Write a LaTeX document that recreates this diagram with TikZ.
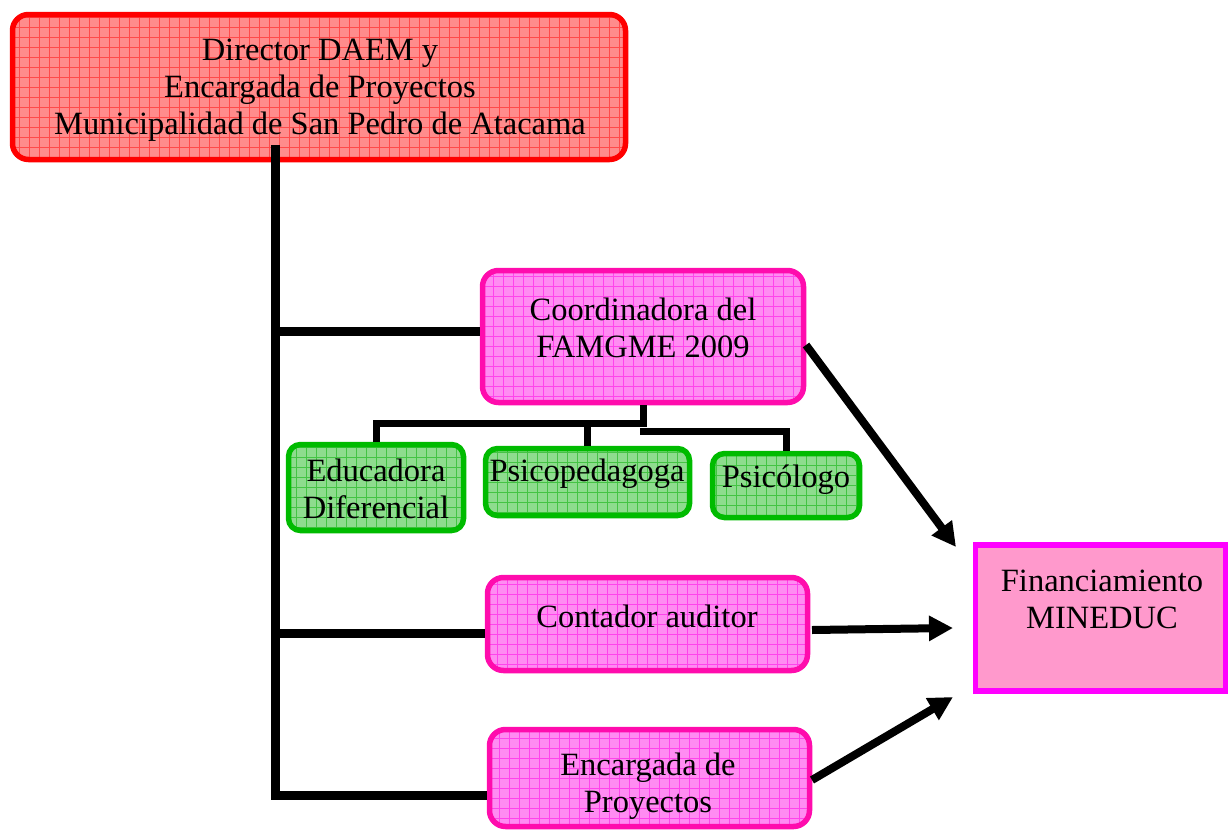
\documentclass[tikz,border=0pt]{standalone}
\usepackage{fontspec}
\setmainfont{Liberation Serif}
\usetikzlibrary{arrows.meta}
\definecolor{redB}{HTML}{FF0000}
\definecolor{redF}{HTML}{FF8C8C}
\definecolor{redG}{HTML}{FF4A4A}
\definecolor{magB}{HTML}{FF0CAD}
\definecolor{magF}{HTML}{FF8CF2}
\definecolor{magG}{HTML}{FF44EC}
\definecolor{grnB}{HTML}{00BB00}
\definecolor{grnF}{HTML}{8EDC8E}
\definecolor{grnG}{HTML}{44C444}
\definecolor{finB}{HTML}{FF00FF}
\definecolor{finF}{HTML}{FF99CC}
\begin{document}
\begin{tikzpicture}[x=1pt,y=-1pt,
  gbox/.style n args={3}{draw=#1, fill=#2, line width=5.5pt, rounded corners=16pt, inner sep=0pt,
    path picture={\draw[#3, line width=0.6pt] (path picture bounding box.south west) grid[step=10pt] (path picture bounding box.north east);}},
  txt/.style={align=center, font=\fontsize{32.5}{36.8}\selectfont, inner sep=0pt},
  conn/.style={line width=9pt, black},
  conn2/.style={line width=7pt, black},
  arr/.style={line width=8pt, black, -{Triangle[length=24pt,width=24pt]}}]
\useasboundingbox (0,0) rectangle (1229,830);
% boxes
\node[gbox={redB}{redF}{redG}, minimum width=613pt, minimum height=145pt] (top) at (319,87) {};
\node[gbox={magB}{magF}{magG}, minimum width=321pt, minimum height=132pt] (coord) at (643,336.5) {};
\node[gbox={grnB}{grnF}{grnG}, minimum width=175pt, minimum height=86pt, rounded corners=12pt] (edu) at (376,487.5) {};
\node[gbox={grnB}{grnF}{grnG}, minimum width=204pt, minimum height=67pt, rounded corners=12pt] (psp) at (587.5,482) {};
\node[gbox={grnB}{grnF}{grnG}, minimum width=147pt, minimum height=64pt, rounded corners=12pt] (psi) at (786,485.5) {};
\node[gbox={magB}{magF}{magG}, minimum width=320pt, minimum height=93pt] (cont) at (647.5,624) {};
\node[gbox={magB}{magF}{magG}, minimum width=320pt, minimum height=97pt] (enc) at (649.5,778) {};
\node[draw=finB, fill=finF, line width=5.5pt, minimum width=250pt, minimum height=146pt, inner sep=0pt] (fin) at (1100.5,618) {};
% texts
\node[txt] (topT) at (320,90) {Director DAEM y\\Encargada de Proyectos\\Municipalidad de San Pedro de Atacama};
\node[txt] (coordT) at (643,328) {Coordinadora del\\FAMGME 2009};
\node[txt] (eduT) at (376,489) {Educadora\\Diferencial};
\node[txt] (pspT) at (587,474) {Psicopedagoga};
\node[txt] (psiT) at (786,480) {Psicólogo};
\node[txt] (contT) at (647,616) {Contador auditor};
\node[txt] (encT) at (648,786) {Encargada de\\Proyectos};
\node[txt] (finT) at (1102,599) {Financiamiento\\MINEDUC};
% trunk
\coordinate (tTop) at (275,145);
\coordinate (tBot) at (275,795);
\coordinate (j1) at (275,331);
\coordinate (j2) at (275,633);
\draw[conn] (tTop) -- (tBot) -- (tBot -| enc.west);
\draw[conn] (j1) -- (j1 -| coord.west);
\draw[conn] (j2) -- (j2 -| cont.west);
% branches
\coordinate (bj) at (643,423);
\coordinate (bj2) at (640,431);
\draw[conn2] (coord.south) -- (bj) -| (edu.north);
\draw[conn2] (bj) -| (psp.north);
\draw[conn2] (bj2) -| (psi.north);
% arrows
\coordinate (a1) at (956,547);
\coordinate (a2) at (953,628);
\coordinate (a3) at (953,697);
\coordinate (s1) at (806,345);
\coordinate (s2) at (812,630);
\coordinate (s3) at (812,780);
\draw[arr] (s1) -- (a1);
\draw[arr] (s2) -- (a2);
\draw[arr] (s3) -- (a3);
\end{tikzpicture}
\end{document}
